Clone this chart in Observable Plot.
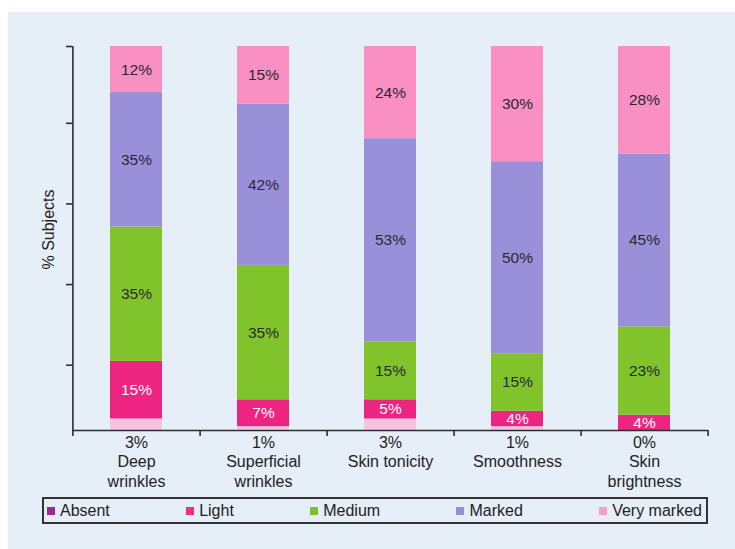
<!DOCTYPE html>
<html>
<head>
<meta charset="utf-8">
<script src="https://cdn.jsdelivr.net/npm/d3@7"></script>
<script src="https://cdn.jsdelivr.net/npm/@observablehq/plot@0.6"></script>
<style>
  html, body { margin: 0; padding: 0; background: #ffffff; }
  #page { position: relative; width: 735px; height: 549px; overflow: hidden;
          font-family: "Liberation Sans", Arial, Helvetica, sans-serif; }
  #paper { position: absolute; left: 8px; top: 12px; right: 0; bottom: 0; background: #e6eef8; }
  #chart { position: absolute; left: 0; top: 0; }
  #legend { position: absolute; left: 42px; top: 497px; width: 655px; height: 23px;
            padding: 0 4px 0 3px; border: 2px solid #333; display: flex;
            justify-content: space-between; align-items: center;
            font-size: 16px; color: #222; }
  .item { display: flex; align-items: center; white-space: nowrap; }
  .sw { width: 8px; height: 8px; margin-right: 5px; }
</style>
</head>
<body>
<div id="page">
  <div id="paper"></div>
  <div id="chart"></div>
  <div id="legend"></div>
</div>
<script>
// Skin attributes scored, with the multi-line form used under the axis
const attributes = ["Deep wrinkles", "Superficial wrinkles", "Skin tonicity", "Smoothness", "Skin brightness"];
const attributeLines = ["Deep\nwrinkles", "Superficial\nwrinkles", "Skin tonicity", "Smoothness", "Skin\nbrightness"];

// Severity grades, bottom of the stack first
const grades = ["Absent", "Light", "Medium", "Marked", "Very marked"];

// % of subjects per grade, one value per attribute
const absent     = [3, 1, 3, 1, 0];
const light      = [15, 7, 5, 4, 4];
const medium     = [35, 35, 15, 15, 23];
const marked     = [35, 42, 53, 50, 45];
const veryMarked = [12, 15, 24, 30, 28];

// Unlabelled tick values on the % axis
const yTicks = [17, 38, 59, 80, 100];

// Segment fills and legend swatches
const barColors    = ["#f4c4e0", "#ee2482", "#80c32a", "#9a90da", "#f98fc2"];
const swatchColors = ["#a0288f", "#ee2f86", "#7cc22c", "#9a8fd6", "#f79ccb"];

const series = [absent, light, medium, marked, veryMarked];
const rows = attributes.flatMap((a, i) =>
  grades.map((g, j) => ({attribute: a, grade: g, value: series[j][i]}))
);

const W = 735, H = 492;
const mLeft = 72, mRight = 27, mTop = 46, mBottom = 62;
const step = (W - mLeft - mRight) / attributes.length;
const ink = "#2e2e2e";

// Percentage labels: white on the "Light" segments, dark elsewhere, none on "Absent"
const label = (want) => (d) => {
  if (d.grade === "Absent") return null;
  const isLight = d.grade === "Light";
  return isLight === want ? `${d.value}%` : null;
};

const chart = Plot.plot({
  width: W,
  height: H,
  marginTop: mTop,
  marginRight: mRight,
  marginBottom: mBottom,
  marginLeft: mLeft,
  style: {background: "transparent", fontFamily: "'Liberation Sans', Arial, sans-serif", overflow: "visible"},
  x: {domain: attributes, paddingInner: 0.59, paddingOuter: 0.295, axis: null},
  y: {domain: [0, 100], axis: null},
  color: {domain: grades, range: barColors},
  marks: [
    Plot.barY(rows, {x: "attribute", y: "value", fill: "grade"}),
    Plot.text(rows, Plot.stackY({x: "attribute", y: "value", z: "grade",
      text: label(false), fill: "#2b2830", fontSize: 15.5})),
    Plot.text(rows, Plot.stackY({x: "attribute", y: "value", z: "grade",
      text: label(true), fill: "#ffffff", fontSize: 15.5})),
    // y axis line and the tick marks between categories
    Plot.ruleX([attributes[0]], {x: d => d, dx: -step / 2, y1: 100, y2: 0,
      insetBottom: -6, stroke: ink, strokeWidth: 1.6}),
    Plot.ruleX(attributes, {x: d => d, dx: step / 2, y1: 0, y2: 0,
      insetBottom: -6, stroke: ink, strokeWidth: 1.6}),
    Plot.ruleY([0], {stroke: ink, strokeWidth: 1.6}),
    Plot.axisY({ticks: yTicks, tickSize: 6, tickFormat: () => "", label: null,
      stroke: ink, strokeWidth: 1.6}),
    Plot.axisX({tickSize: 0, tickPadding: 4, fontSize: 16, lineHeight: 1.2,
      fill: "#222", label: null,
      tickFormat: (d) => `${absent[attributes.indexOf(d)]}%\n${attributeLines[attributes.indexOf(d)]}`}),
    Plot.text(["% Subjects"], {frameAnchor: "left", textAnchor: "middle", rotate: -90,
      dx: -24, dy: -9, fontSize: 16, fill: "#222"})
  ]
});
document.getElementById("chart").appendChild(chart);

// Legend box below the chart
const legend = document.getElementById("legend");
grades.forEach((g, i) => {
  const item = document.createElement("div");
  item.className = "item";
  const sw = document.createElement("span");
  sw.className = "sw";
  sw.style.background = swatchColors[i];
  const t = document.createElement("span");
  t.textContent = g;
  item.appendChild(sw);
  item.appendChild(t);
  legend.appendChild(item);
});
</script>
</body>
</html>
